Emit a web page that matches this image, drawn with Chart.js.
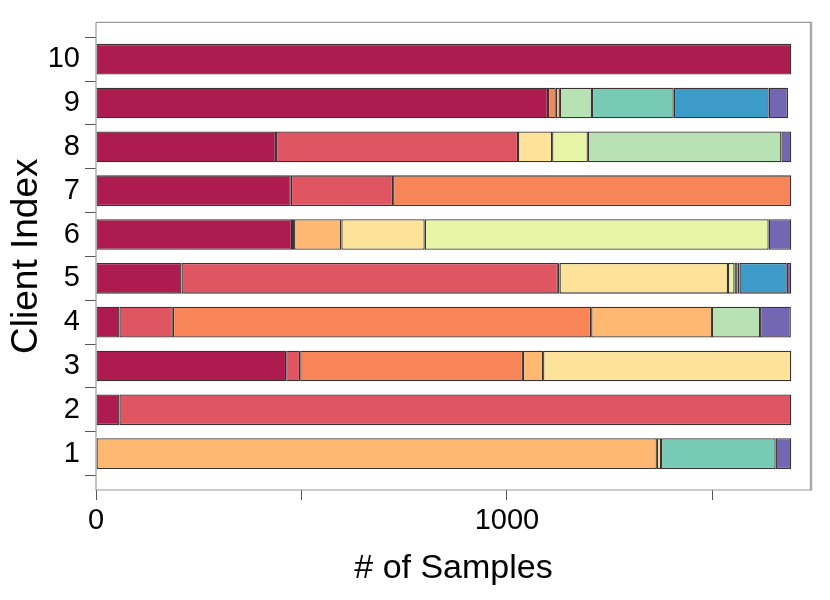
<!DOCTYPE html>
<html>
<head>
<meta charset="utf-8">
<script src="https://cdn.jsdelivr.net/npm/chart.js@4/dist/chart.umd.min.js"></script>
<style>
  html, body { margin: 0; padding: 0; background: #ffffff; }
  canvas { display: block; }
</style>
</head>
<body>
<canvas id="c" width="830" height="600"></canvas>
<script>
// ---- data (values per client 1..10) ----
const clients = [1, 2, 3, 4, 5, 6, 7, 8, 9, 10];
const class0 = [0, 57, 463, 57, 208, 477, 474, 438, 1100, 1692];
const class1 = [0, 1635, 34, 130, 916, 5, 249, 589, 0, 0];
const class2 = [0, 0, 542, 1018, 4, 0, 969, 0, 19, 0];
const class3 = [1365, 0, 49, 294, 0, 115, 0, 0, 10, 0];
const class4 = [10, 0, 604, 0, 410, 203, 0, 83, 0, 0];
const class5 = [0, 0, 0, 0, 16, 837, 0, 87, 0, 0];
const class6 = [0, 0, 0, 117, 7, 0, 0, 471, 78, 0];
const class7 = [279, 0, 0, 0, 5, 0, 0, 0, 199, 0];
const class8 = [0, 0, 0, 0, 115, 0, 0, 0, 231, 0];
const class9 = [38, 0, 0, 75, 11, 55, 0, 24, 47, 0];
const xTicks = [0, 500, 1000, 1500];
const xTickLabels = ['0', '', '1000', ''];

const classValues = [class0, class1, class2, class3, class4, class5, class6, class7, class8, class9];
const classColors = ['#ae1c4f', '#df5562', '#f78557', '#feb872', '#fde39a',
                     '#e8f5a6', '#b8e2b4', '#77cab4', '#3d9bc9', '#7366b2'];

const datasets = classValues.map((vals, k) => ({
  label: 'class ' + k,
  data: vals.map((v, i) => ({ x: v === 0 ? null : v, y: clients[i] })),
  backgroundColor: classColors[k],
  borderColor: 'rgba(25,15,15,0.85)',
  borderWidth: 1.3,
  borderSkipped: false,
  categoryPercentage: 1.0,
  barPercentage: 0.7
}));

const framePlugin = {
  id: 'frame',
  afterDraw(chart) {
    const a = chart.chartArea;
    const ctx = chart.ctx;
    ctx.save();
    ctx.strokeStyle = '#9a9a9a';
    ctx.lineWidth = 1.2;
    ctx.beginPath();
    ctx.moveTo(a.left, a.top); ctx.lineTo(a.left, a.bottom);
    ctx.lineTo(a.right, a.bottom);
    ctx.moveTo(a.left, a.top); ctx.lineTo(a.right, a.top);
    ctx.stroke();
    ctx.strokeStyle = '#a8a8a8';
    ctx.lineWidth = 2.5;
    ctx.beginPath();
    ctx.moveTo(a.right, a.top - 0.6); ctx.lineTo(a.right, a.bottom + 0.6);
    ctx.stroke();
    ctx.restore();
  }
};

const FONT = "'Liberation Sans', Arial, Helvetica, sans-serif";

new Chart(document.getElementById('c'), {
  type: 'bar',
  data: { datasets },
  plugins: [framePlugin],
  options: {
    responsive: false,
    animation: false,
    indexAxis: 'y',
    layout: { padding: { left: 0, right: 19, top: 22, bottom: 0 } },
    plugins: { legend: { display: false }, tooltip: { enabled: false } },
    scales: {
      x: {
        type: 'linear',
        stacked: true,
        min: 0,
        max: 1740,
        border: { display: false },
        grid: { drawOnChartArea: false, drawTicks: true, tickLength: 10, color: '#555', lineWidth: 1 },
        afterBuildTicks: s => { s.ticks = xTicks.map(v => ({ value: v })); },
        afterFit: s => { s.height = 110; },
        ticks: {
          padding: 4,
          color: '#000',
          font: { family: FONT, size: 29 },
          maxRotation: 0,
          callback: (v, i) => xTickLabels[i]
        },
        title: {
          display: true,
          text: '# of Samples',
          color: '#000',
          font: { family: FONT, size: 34 },
          padding: { top: 0, bottom: 11 }
        }
      },
      y: {
        type: 'linear',
        stacked: true,
        offset: false,
        min: 0.17,
        max: 10.84,
        border: { display: false },
        grid: { offset: true, drawOnChartArea: false, drawTicks: true, tickLength: 11, color: '#555', lineWidth: 1 },
        afterBuildTicks: s => { s.ticks = clients.map(v => ({ value: v })); },
        afterFit: s => { s.width = 96; },
        ticks: {
          padding: 5,
          color: '#000',
          font: { family: FONT, size: 29 },
          callback: v => String(v)
        },
        title: {
          display: true,
          text: 'Client Index',
          color: '#000',
          font: { family: FONT, size: 37 },
          padding: { top: 5, bottom: 0 }
        }
      }
    }
  }
});
</script>
</body>
</html>
